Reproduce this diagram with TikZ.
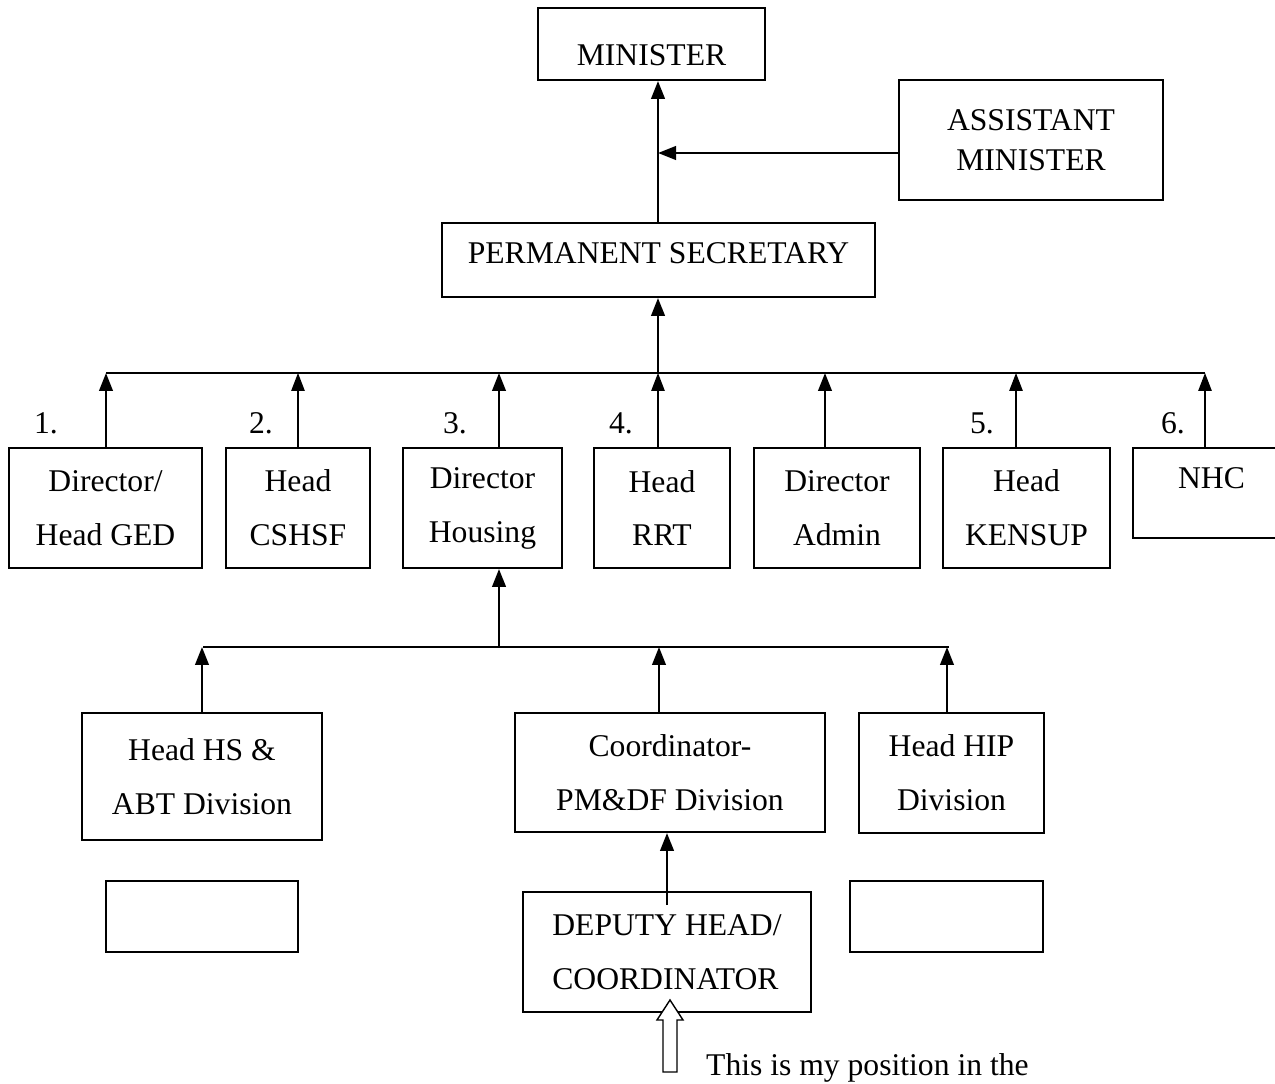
\documentclass[tikz,border=0pt]{standalone}
\usepackage{fontspec}
\setmainfont{Liberation Serif}
\usetikzlibrary{arrows.meta, positioning, calc}

\begin{document}
\begin{tikzpicture}[x=0.02cm, y=-0.02cm, >={Triangle[length=0.36cm, width=0.27cm]},
        box/.style={draw, line width=1.1pt, align=center, inner sep=0pt,
            font=\fontsize{18}{30.7}\selectfont},
        num/.style={font=\fontsize{18}{22}\selectfont},
        up/.style={->, line width=1.5pt},
        upthin/.style={->, line width=0.7pt}]
        \useasboundingbox (0,0) rectangle (1275,1084);
        % Minister and assistant minister
        \node[box, minimum width=4.54cm, minimum height=1.44cm, text height=24.6pt, text depth=0pt] (min) at (651.5,44) {MINISTER};
        \node[box, minimum width=5.28cm, minimum height=2.4cm, font=\fontsize{18}{22.8}\selectfont] (asst) at (1031,140) {ASSISTANT\\MINISTER};
        \node[box, minimum width=8.66cm, minimum height=1.48cm, text height=12pt, text depth=8pt] (ps) at (658.5,260) {PERMANENT SECRETARY};
        \coordinate (join) at (658,153);
        \draw[up] (ps.north -| join) -- (min.south -| join);
        \draw[up] (asst.west |- join) -- (join);
        % Departments
        \node[box, minimum width=3.86cm, minimum height=2.4cm] (ged) at (105.5,508) {Director/\\Head GED};
        \node[box, minimum width=2.88cm, minimum height=2.4cm] (cshsf) at (298,508) {Head\\CSHSF};
        \node[box, minimum width=3.18cm, minimum height=2.4cm] (hsg) at (482.5,508) {Director\\Housing};
        \node[box, minimum width=2.72cm, minimum height=2.4cm] (rrt) at (662,508) {Head\\RRT};
        \node[box, minimum width=3.32cm, minimum height=2.4cm] (adm) at (837,508) {Director\\Admin};
        \node[box, minimum width=3.34cm, minimum height=2.4cm] (ken) at (1026.5,508) {Head\\KENSUP};
        \node[box, minimum width=3.14cm, minimum height=1.8cm, text height=12pt, text depth=16.6pt] (nhc) at (1211.5,493) {NHC};
        \foreach \t/\x in {1/46, 2/261, 3/455, 4/621, 5/982, 6/1173} {
            \node[num] (n\t) at (\x,423) {\t.};
        }
        % Bus to permanent secretary
        \coordinate (bus) at (658,373);
        \draw[up] (bus) -- (ps.south -| bus);
        \draw[line width=1.1pt] (106,0 |- bus) -- (1205,0 |- bus);
        \foreach \n/\x/\s in {ged/106/up, cshsf/298/upthin, hsg/499/up, rrt/658/upthin, adm/825/up, ken/1016/upthin, nhc/1205/upthin} {
            \draw[\s] (\x,0 |- \n.north) -- (\x,0 |- bus);
        }
        % Divisions under housing
        \node[box, minimum width=4.8cm, minimum height=2.54cm] (hs) at (202,776.5) {Head HS \&\\ABT Division};
        \node[box, minimum width=6.2cm, minimum height=2.38cm] (pmdf) at (670,772.5) {Coordinator-\\PM\&DF Division};
        \node[box, minimum width=3.7cm, minimum height=2.4cm] (hip) at (951.5,773) {Head HIP\\Division};
        \coordinate (bus2) at (499,647);
        \draw[up] (bus2) -- (hsg.south -| bus2);
        \draw[line width=1.1pt] (203,0 |- bus2) -- (949,0 |- bus2);
        \foreach \n/\x in {hs/202, pmdf/659, hip/947} {
            \draw[up] (\x,0 |- \n.north) -- (\x,0 |- bus2);
        }
        % Lower level
        \node[box, minimum width=3.84cm, minimum height=1.42cm] (e1) at (202,916.5) {};
        \node[box, minimum width=3.86cm, minimum height=1.42cm] (e2) at (946.5,916.5) {};
        \node[box, minimum width=5.76cm, minimum height=2.4cm, align=left] (dep) at (667,952) {DEPUTY HEAD/\\COORDINATOR};
        \coordinate (depin) at (667,905);
        \draw[up] (depin) -- (pmdf.south -| depin);
        % Position marker
        \draw[line width=0.8pt, fill=white] (663,1072) -- (663,1020) -- (657,1020) -- (670,1000)
            -- (683,1020) -- (677,1020) -- (677,1072) -- cycle;
        \node[anchor=base west, font=\fontsize{18}{22}\selectfont] (note) at (700,1075) {This is my position in the};
\end{tikzpicture}
\end{document}
